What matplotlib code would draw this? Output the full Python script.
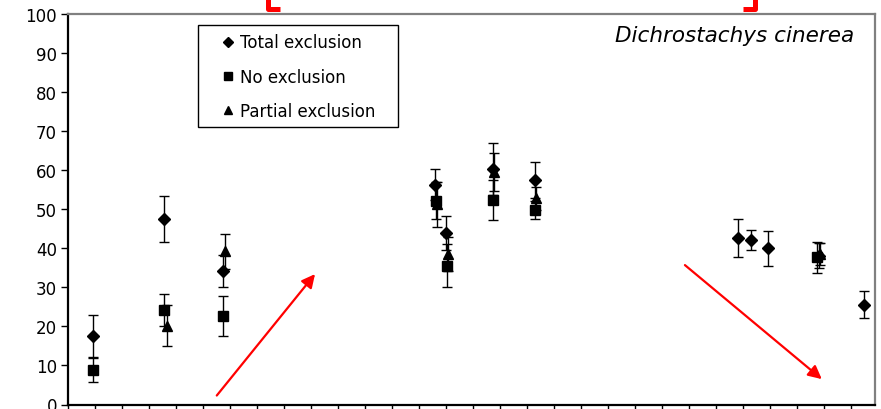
import matplotlib
matplotlib.use("Agg")
import matplotlib.pyplot as plt
from matplotlib.lines import Line2D
from matplotlib.patches import Rectangle
from matplotlib.ticker import MultipleLocator, NullFormatter

# Datos (x en dias, y en %)
total_x = [9.4, 35.6, 57.5, 135.9, 140.0, 157.5, 173.0, 248.3, 253.0, 259.4, 278.1, 294.9]
total_y = [17.5, 47.5, 34.3, 56.3, 43.9, 60.3, 57.6, 42.6, 42.1, 40.0, 38.1, 25.6]
total_err = [5.4, 5.8, 4.1, 3.9, 4.4, 6.6, 4.6, 4.8, 2.6, 4.5, 3.2, 3.4]

no_x = [9.4, 35.7, 57.5, 136.2, 140.2, 157.5, 173.0, 277.6]
no_y = [8.8, 24.2, 22.7, 52.2, 35.5, 52.4, 49.8, 37.7]
no_err = [3.0, 4.0, 5.1, 4.8, 5.5, 5.2, 2.3, 3.9]

partial_x = [36.5, 58.3, 136.7, 140.6, 157.8, 173.3, 278.5]
partial_y = [20.2, 39.2, 51.3, 38.5, 59.5, 52.8, 38.5]
partial_err = [5.3, 4.4, 5.8, 4.3, 4.9, 3.0, 2.8]

series_labels = ['Total exclusion', 'No exclusion', 'Partial exclusion']
species = 'Dichrostachys cinerea'

# Flechas y corchetes rojos (anotaciones)
arrow_up = ((55.1, 2.3), (91.5, 33.4))
arrow_down = ((228.5, 35.7), (279.2, 6.5))
bracket_left = ([73.9, 73.9, 78.5], [106, 101.4, 101.4])
bracket_right = ([250.0, 254.4, 254.4], [101.4, 101.4, 106])

fig = plt.figure(figsize=(8.81, 4.10), dpi=100)
ax = fig.add_axes([68 / 881, 4.5 / 410, 807 / 881, 390.5 / 410])

err_kw = dict(ecolor='black', elinewidth=1.0, capsize=3.3, capthick=1.0,
              color='black', linestyle='none')
ax.errorbar(total_x, total_y, yerr=total_err, marker='D', markersize=6, **err_kw)
ax.errorbar(no_x, no_y, yerr=no_err, marker='s', markersize=6.8, **err_kw)
ax.errorbar(partial_x, partial_y, yerr=partial_err, marker='^', markersize=7.5, **err_kw)

ax.set_xlim(0, 298.9)
ax.set_ylim(0, 100)
ax.yaxis.set_major_locator(MultipleLocator(10))
ax.xaxis.set_major_locator(MultipleLocator(30))
ax.xaxis.set_minor_locator(MultipleLocator(10))
ax.xaxis.set_major_formatter(NullFormatter())
ax.tick_params(axis='y', labelsize=12, length=5, width=1, direction='out', pad=3)
ax.tick_params(axis='x', which='major', length=6, width=1, direction='out')
ax.tick_params(axis='x', which='minor', length=4, width=1, direction='out')

for s in ['left', 'bottom']:
    ax.spines[s].set_color('black')
    ax.spines[s].set_linewidth(1.6)
for s in ['top', 'right']:
    ax.spines[s].set_color('#808080')
    ax.spines[s].set_linewidth(1.6)

# Leyenda: solo marcadores, con marco aparte
handles = [
    Line2D([], [], color='black', marker='D', markersize=4.8, linestyle='none'),
    Line2D([], [], color='black', marker='s', markersize=5.4, linestyle='none'),
    Line2D([], [], color='black', marker='^', markersize=6.4, linestyle='none'),
]
fig.add_artist(Rectangle((198 / 881, 1 - 128 / 410), 200 / 881, 102 / 410,
                         transform=fig.transFigure, fill=False,
                         edgecolor='black', linewidth=1.0))
leg = ax.legend(handles, series_labels, loc='upper left',
                bbox_to_anchor=(221.3 / 881, 1 - 34.5 / 410),
                bbox_transform=fig.transFigure, fontsize=12, frameon=False,
                handlelength=0.8, handletextpad=0.32, labelspacing=0.97,
                borderpad=0, borderaxespad=0)

ax.text(0.974, 0.945, species, transform=ax.transAxes, ha='right', va='center',
        fontsize=15.5, style='italic')

for (x0, y0), (x1, y1) in [arrow_up, arrow_down]:
    ax.annotate('', xy=(x1, y1), xytext=(x0, y0),
                arrowprops=dict(arrowstyle='-|>', color='red', lw=1.6,
                                mutation_scale=20, shrinkA=0, shrinkB=0))

for bx, by in [bracket_left, bracket_right]:
    ax.plot(bx, by, color='red', lw=3.6, clip_on=False, solid_capstyle='butt')

fig.savefig('out.png', dpi=100)
